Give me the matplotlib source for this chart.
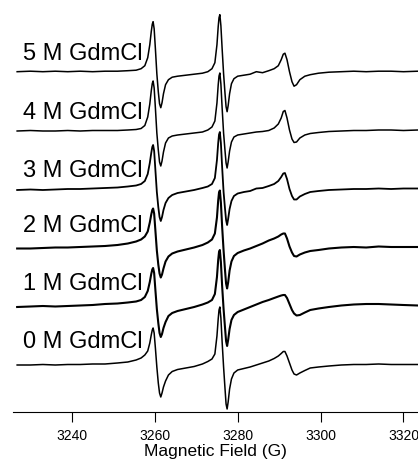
import matplotlib
matplotlib.use("Agg")
import matplotlib.pyplot as plt

plt.rcParams["font.family"] = ["Liberation Sans", "DejaVu Sans"]

# magnetic field grid (G), shared by all spectra
campo = [3226.8, 3230, 3233, 3236, 3239, 3242, 3245, 3248, 3251, 3253.5, 3255.5, 3256.7,
         # linha 1
         3257.6, 3258.3, 3258.8, 3259.15, 3259.4, 3259.6, 3259.85, 3260.15, 3260.5,
         3260.85, 3261.15, 3261.45, 3261.75, 3262.1, 3262.6, 3263.3, 3264.2,
         3265.5, 3267.5, 3269.5, 3271.5, 3272.8,
         # linha 2
         3273.8, 3274.5, 3275.0, 3275.3, 3275.5, 3275.7, 3275.95, 3276.25, 3276.6,
         3276.95, 3277.2, 3277.45, 3277.7, 3278.05, 3278.5, 3279.1, 3280.0,
         3281.5, 3283, 3284.5, 3286, 3287.5, 3288.8, 3289.8,
         # linha 3
         3290.5, 3291.0, 3291.4, 3291.9, 3292.5, 3293.1, 3293.6, 3294.2, 3295.0, 3296.2,
         3297.5, 3299.5, 3302, 3305, 3308, 3311, 3314, 3317, 3320, 3323.5]

rotulos = ["0 M GdmCl", "1 M GdmCl", "2 M GdmCl", "3 M GdmCl", "4 M GdmCl", "5 M GdmCl"]

# EPR derivative signal (arb. units) for each GdmCl concentration
sinal_0M = [0, 0, 0.5, 0, 0.5, 0.5, 1, 1, 2, 3, 5, 7,
            10, 14, 22, 30, 35, 37, 32, 17, -2, -18, -28, -32, -28, -22, -16, -10, -6.5,
            -4.5, -3, -1.5, 1, 3.5,
            6, 11, 29, 46, 55, 58, 47, 23, -2, -24, -39, -44, -37, -24, -14, -8, -5,
            -3.5, -2, 0, 2, 4, 6.5, 9,
            11.5, 13.5, 13.5, 9, 2, -5, -9, -10, -8, -5.5,
            -3, -2, -1, 0, 0.5, 0.5, 1, 0.5, 0.5, 0.5]
sinal_1M = [0, 0.5, 1, 0.5, 1, 1.5, 2, 3, 3.5, 4.5, 5.5, 7,
            10, 16, 25, 33, 37.5, 39, 34, 17, -2, -16, -26, -30, -27, -21, -15, -9, -6,
            -4, -2, 0, 2.5, 4.5,
            7, 13, 30, 47, 55, 57, 45, 21, -2, -21, -34, -39, -33, -22, -13, -8, -5,
            -2.5, 0, 2.5, 5, 7, 9, 10.5,
            11.5, 12, 12, 9, 3, -3, -6.5, -8.5, -8, -5.5,
            -3, -1.5, 0, 1.5, 2.5, 3, 3, 2.5, 2, 1.5]
sinal_2M = [0, 0, 0.5, 1, 1, 1.5, 2, 2.5, 3.5, 5, 7, 9,
            12, 17, 26, 34, 38.5, 40, 35, 18, -2, -16, -25, -29, -26, -20, -13, -8, -5,
            -3, -1, 1, 3.5, 6,
            9, 15, 31, 48, 56, 58, 46, 22, -2, -22, -35, -40, -34, -22, -13, -7.5, -4.5,
            -2, 0, 2.5, 5, 8, 10, 12,
            14, 15, 15, 10, 2, -4, -7.5, -8, -6, -4,
            -2.5, -1.5, 0, 1, 1.5, 1, 2, 1.5, 1.5, 1.5]
sinal_3M = [0, 0.5, 0, 0.5, 1, 1, 1.5, 2, 2.5, 3.5, 4.5, 6,
            9, 16, 27, 37, 43, 45, 39, 20, -2, -17, -27, -31, -27, -20, -13, -8, -5,
            -3, -1.5, 0, 2, 3.5,
            6, 12, 30, 47, 55.5, 58, 47, 23, -2, -19, -30, -35, -29, -19, -11, -6, -3.5,
            -2, -1, 1.5, 2, 4, 6, 9,
            13, 16.5, 17, 11, 1, -6, -9.5, -9.5, -6.5, -4,
            -2, -1, 0, 0.5, 1, 1, 1.5, 1, 1.5, 1.5]
sinal_4M = [0, 0.5, 0, 0, 0.5, 0, 0.5, 0.5, 0.5, 1, 1.5, 2.5,
            5.5, 14, 27, 40, 47.5, 50, 43, 23, -2, -19, -31, -35, -30, -21, -12, -7, -5,
            -4, -3, -2, -1, 1,
            4, 10, 28, 46, 55, 58, 47, 23, -2, -20, -32, -37, -31, -20, -11, -6, -4,
            -3, -2, -1, -0.5, 0.5, 3, 7,
            13, 19.5, 20.5, 13, 1, -8, -11.5, -11, -7, -4,
            -2.5, -1.5, -0.5, 0, 0.5, 0.5, 1, 1, 0.5, 1]
sinal_5M = [0, 0.5, 0, 0.5, 0, 0.5, 0, 0.5, 0.5, 1, 1.5, 3,
            6, 14, 27, 40, 47.5, 50, 43, 23, -2, -20, -32, -36, -31, -22, -13, -8, -5.5,
            -4.5, -3.5, -2.5, -1.5, 0,
            3, 9, 27, 45, 54, 57, 46, 23, -2, -22, -35, -40, -34, -22, -12, -7, -4.5,
            -3.5, -2.5, 0, -1, 1, 3, 6,
            12, 17.5, 18.5, 12, 0, -10, -14.5, -13, -8, -4.5,
            -3, -1.5, -0.5, 0, 0.5, 0, 0.5, 0.5, 0, 0.5]

sinais = [sinal_0M, sinal_1M, sinal_2M, sinal_3M, sinal_4M, sinal_5M]

# vertical stacking of the spectra and label heights
deslocamento = [0, 58, 116.5, 175, 234, 293.3]
altura_rotulo = [17, 75, 133, 188, 246, 305]
espessura = [1.1, 1.5, 1.5, 1.3, 1.1, 1.1]

fig = plt.figure(figsize=(4.18, 4.62), dpi=100)
ax = fig.add_axes([13 / 418, 50 / 462, 405 / 418, 412 / 462])

for s, d, lw in zip(sinais, deslocamento, espessura):
    ax.plot(campo, [v + d for v in s], color="black", linewidth=lw)

for r, h in zip(rotulos, altura_rotulo):
    ax.text(3228.1, h, r, fontsize=17, ha="left", va="baseline", color="black")

ax.set_xlim(3225.8, 3323.5)
ax.set_ylim(-47, 365)
ax.set_xticks([3240, 3260, 3280, 3300, 3320])
ax.set_yticks([])
for lado in ["left", "top", "right"]:
    ax.spines[lado].set_visible(False)
ax.spines["bottom"].set_linewidth(0.8)
ax.tick_params(axis="x", direction="out", length=7, width=0.8, labelsize=10, pad=5)
ax.set_xlabel("Magnetic Field (G)", fontsize=12.5, labelpad=1)

fig.savefig("out.png", dpi=100)
